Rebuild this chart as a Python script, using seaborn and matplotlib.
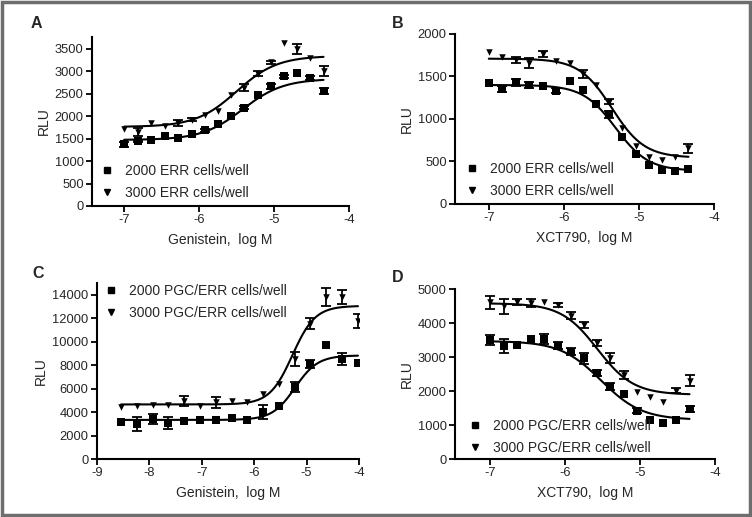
import numpy as np
import pandas as pd
import matplotlib
matplotlib.use("Agg")
import matplotlib.pyplot as plt
import seaborn as sns
from matplotlib.patches import Rectangle

sns.set_style("ticks")
plt.rcParams["font.family"] = ["Liberation Sans", "DejaVu Sans"]
plt.rcParams["axes.unicode_minus"] = False

# log M doses
dose_half = [-7.00, -6.82, -6.64, -6.46, -6.28, -6.10, -5.92, -5.75,
             -5.57, -5.40, -5.22, -5.04, -4.87, -4.69, -4.52, -4.34]
dose_two = [-8.54, -8.24, -7.94, -7.64, -7.34, -7.03, -6.73, -6.43,
            -6.13, -5.83, -5.53, -5.23, -4.93, -4.63, -4.32, -4.02]

# A: Genistein, ERR cells
a_2000 = [1370, 1445, 1460, 1550, 1520, 1610, 1683, 1831,
          2001, 2187, 2476, 2661, 2884, 2965, 2847, 2560]
a_2000_err = [60, 30, 0, 0, 0, 0, 40, 0, 0, 40, 0, 50, 40, 0, 50, 60]
a_3000 = [1720, 1646, 1846, 1772, 1846, 1920, 2031, 2105,
          2476, 2632, 2943, 3195, 3632, 3500, 3299, 3002]
a_3000_err = [0, 80, 0, 0, 60, 40, 0, 0, 0, 80, 50, 30, 0, 110, 0, 110]

# B: XCT790, ERR cells
b_2000 = [1420, 1349, 1431, 1400, 1392, 1333, 1443, 1341,
          1172, 1055, 792, 588, 463, 400, 388, 412]
b_2000_err = [0, 35, 40, 40, 0, 30, 0, 0, 0, 40, 0, 0, 0, 0, 0, 0]
b_3000 = [1784, 1725, 1694, 1655, 1765, 1686, 1663, 1529,
          1400, 1204, 890, 686, 553, 518, 549, 655]
b_3000_err = [0, 0, 30, 60, 40, 0, 0, 50, 0, 30, 0, 0, 0, 0, 0, 50]

# C: Genistein, PGC/ERR cells
c_2000 = [3124, 3010, 3408, 3067, 3238, 3351, 3351, 3465,
          3351, 3976, 4544, 6134, 8123, 9713, 8520, 8208]
c_2000_err = [0, 600, 450, 550, 0, 0, 0, 0, 0, 600, 0, 450, 350, 0, 500, 0]
c_3000 = [4430, 4544, 4601, 4601, 4942, 4544, 4828, 4942,
          4885, 5510, 6419, 8520, 11531, 13803, 13803, 11786]
c_3000_err = [0, 0, 0, 0, 400, 0, 450, 0, 0, 0, 0, 600, 450, 800, 600, 600]

# D: XCT790, PGC/ERR cells
d_2000 = [3507, 3330, 3360, 3536, 3536, 3330, 3153, 2957,
          2525, 2132, 1916, 1424, 1149, 1051, 1149, 1473]
d_2000_err = [150, 200, 0, 0, 150, 100, 100, 150, 80, 100, 0, 80, 0, 0, 0, 100]
d_3000 = [4607, 4489, 4617, 4587, 4617, 4519, 4214, 3939,
          3409, 2967, 2475, 1965, 1837, 1690, 2014, 2308]
d_3000_err = [200, 230, 80, 120, 0, 60, 100, 100, 80, 150, 120, 0, 0, 0, 60, 150]

# 4PL fit parameters: bottom, top, logEC50, hill
fit_a = [(1470, 2830, -5.42, 1.6), (1760, 3340, -5.50, 1.6)]
fit_b = [(390, 1400, -5.31, -2.0), (545, 1710, -5.36, -2.0)]
fit_c = [(3330, 8830, -5.22, 2.0), (4650, 13050, -5.27, 2.0)]
fit_d = [(1150, 3470, -5.52, -1.6), (1890, 4580, -5.57, -1.8)]

legend_err = ["2000 ERR cells/well", "3000 ERR cells/well"]
legend_pgc = ["2000 PGC/ERR cells/well", "3000 PGC/ERR cells/well"]

panels = [
    dict(letter="A", x=dose_half, ys=[a_2000, a_3000], errs=[a_2000_err, a_3000_err],
         fits=fit_a, labels=legend_err, xlabel="Genistein,  log M",
         xlim=(-7.43, -4), xticks=[-7, -6, -5, -4], ylim=(0, 3760), yticks=range(0, 3501, 500),
         rect=[92, 37, 349, 206], leg=(100, 164), let=(31, 16)),
    dict(letter="B", x=dose_half, ys=[b_2000, b_3000], errs=[b_2000_err, b_3000_err],
         fits=fit_b, labels=legend_err, xlabel="XCT790,  log M",
         xlim=(-7.45, -4), xticks=[-7, -6, -5, -4], ylim=(0, 2000), yticks=range(0, 2001, 500),
         rect=[455, 34, 714, 204], leg=(465, 162), let=(392, 16)),
    dict(letter="C", x=dose_two, ys=[c_2000, c_3000], errs=[c_2000_err, c_3000_err],
         fits=fit_c, labels=legend_pgc, xlabel="Genistein,  log M",
         xlim=(-9, -4), xticks=[-9, -8, -7, -6, -5, -4], ylim=(0, 15000), yticks=range(0, 14001, 2000),
         rect=[97, 283, 359, 459], leg=(104, 284), let=(32, 266)),
    dict(letter="D", x=dose_half, ys=[d_2000, d_3000], errs=[d_2000_err, d_3000_err],
         fits=fit_d, labels=legend_pgc, xlabel="XCT790,  log M",
         xlim=(-7.47, -4), xticks=[-7, -6, -5, -4], ylim=(0, 5000), yticks=range(0, 5001, 1000),
         rect=[455, 289, 715, 459], leg=(468, 419), let=(392, 270)),
]

W, H = 752, 517
fig = plt.figure(figsize=(W / 100, H / 100), dpi=100)
fig.patches.append(Rectangle((0.002, 0.003), 0.996, 0.994, transform=fig.transFigure,
                             fill=False, edgecolor="#6e6e6e", linewidth=2.5))

markers = ["s", "v"]
sizes = [26, 22]
for p in panels:
    l, t, r, b = p["rect"]
    ax = fig.add_axes([l / W, 1 - b / H, (r - l) / W, (b - t) / H])
    rows = []
    for k in range(2):
        for xv, yv, ev in zip(p["x"], p["ys"][k], p["errs"][k]):
            rows.append(dict(dose=xv, rlu=yv, err=ev, group=p["labels"][k]))
    df = pd.DataFrame(rows)
    for k in range(2):
        sub = df[df["group"] == p["labels"][k]]
        e = sub[sub["err"] > 0]
        ax.errorbar(e["dose"], e["rlu"], yerr=e["err"], fmt="none", ecolor="black",
                    elinewidth=1.3, capsize=3.5, capthick=1.3, zorder=2)
        bot, top, ec50, hill = p["fits"][k]
        xs = np.linspace(min(p["x"]), max(p["x"]), 200)
        curve = pd.DataFrame(dict(dose=xs, rlu=bot + (top - bot) / (1 + 10 ** ((ec50 - xs) * hill))))
        sns.lineplot(data=curve, x="dose", y="rlu", color="black", linewidth=1.5, ax=ax, zorder=3)
        sns.scatterplot(data=sub, x="dose", y="rlu", marker=markers[k], color="black",
                        s=sizes[k], linewidth=0, ax=ax, zorder=4, legend=False)
    ax.set_xlim(*p["xlim"])
    ax.set_ylim(*p["ylim"])
    ax.set_xticks(p["xticks"])
    ax.set_yticks(list(p["yticks"]))
    ax.set_xlabel(p["xlabel"], fontsize=10, labelpad=5)
    ax.set_ylabel("RLU", fontsize=10, labelpad=3)
    ax.tick_params(labelsize=9.3, length=4, width=1.3, color="black", pad=2)
    for s in ["top", "right"]:
        ax.spines[s].set_visible(False)
    for s in ["left", "bottom"]:
        ax.spines[s].set_linewidth(1.5)
        ax.spines[s].set_color("black")
    handles = [plt.Line2D([], [], marker=m, linestyle="none", color="black", markersize=ms)
               for m, ms in zip(markers, [4, 4.2])]
    lx, ly = p["leg"]
    ax.legend(handles, p["labels"], loc="upper left", bbox_to_anchor=(lx / W, 1 - ly / H),
              bbox_transform=fig.transFigure, frameon=False, fontsize=10,
              handletextpad=0.8, labelspacing=0.55, borderpad=0, borderaxespad=0,
              handlelength=1.0)
    lx2, ly2 = p["let"]
    fig.text(lx2 / W, 1 - ly2 / H, p["letter"], fontsize=11.5, fontweight="bold", va="top")

fig.savefig("out.png", dpi=100)
